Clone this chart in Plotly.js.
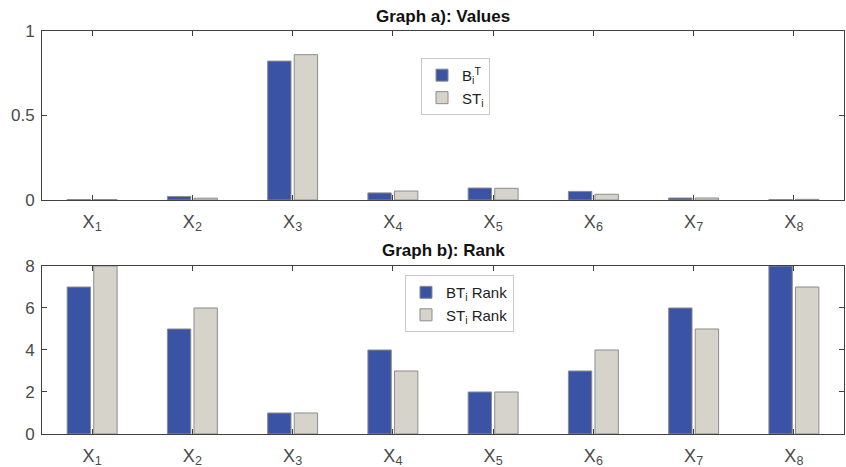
<!DOCTYPE html>
<html>
<head>
<meta charset="utf-8">
<script src="https://cdn.plot.ly/plotly-3.0.1.min.js"></script>
<style>html,body{margin:0;padding:0;background:#fff;}#chart{width:846px;height:467px;}</style>
</head>
<body>
<div id="chart"></div>
<script>
const categories = ["X<sub>1</sub>","X<sub>2</sub>","X<sub>3</sub>","X<sub>4</sub>","X<sub>5</sub>","X<sub>6</sub>","X<sub>7</sub>","X<sub>8</sub>"];
const btValues = [0.003, 0.021, 0.822, 0.042, 0.071, 0.051, 0.012, 0.003];
const stValues = [0.003, 0.011, 0.860, 0.053, 0.069, 0.034, 0.012, 0.004];
const btRank = [7, 5, 1, 4, 2, 3, 6, 8];
const stRank = [8, 6, 1, 3, 2, 4, 5, 7];
const yTicksTop = [0, 0.5, 1];
const yTickTextTop = ["0", "0.5", "1"];
const yTicksBottom = [0, 2, 4, 6, 8];

const FONT = "'Liberation Sans', Arial, sans-serif";
const BLUE = "#3a53a4";
const GRAY = "#d6d3ca";
const EDGE = "#8c8c8c";
const AX = "#404040";

const traces = [
  {type:"bar", x:categories, y:btValues, name:"B<sub>i</sub><sup>T</sup>", xaxis:"x", yaxis:"y",
   marker:{color:BLUE, line:{color:EDGE, width:1}}, legend:"legend"},
  {type:"bar", x:categories, y:stValues, name:"ST<sub>i</sub>", xaxis:"x", yaxis:"y",
   marker:{color:GRAY, line:{color:EDGE, width:1}}, legend:"legend"},
  {type:"bar", x:categories, y:btRank, name:"BT<sub>i</sub> Rank", xaxis:"x2", yaxis:"y2",
   marker:{color:BLUE, line:{color:EDGE, width:1}}, legend:"legend2"},
  {type:"bar", x:categories, y:stRank, name:"ST<sub>i</sub> Rank", xaxis:"x2", yaxis:"y2",
   marker:{color:GRAY, line:{color:EDGE, width:1}}, legend:"legend2"}
];

const xCommon = {
  type:"category", showline:true, linecolor:AX, linewidth:1, mirror:"ticks",
  ticks:"inside", ticklen:5, tickcolor:AX, showgrid:false, zeroline:false,
  tickfont:{family:FONT, size:18, color:"#4a4a4a"}, ticklabelstandoff:5,
  range:[-0.5,7.5], fixedrange:true
};
const yCommon = {
  showline:true, linecolor:AX, linewidth:1, mirror:"ticks",
  ticks:"inside", ticklen:5, tickcolor:AX, showgrid:false, zeroline:false,
  tickfont:{family:FONT, size:17, color:"#4a4a4a"}, ticklabelstandoff:3
};
const legCommon = {
  bgcolor:"#ffffff", bordercolor:"#c8c8c8", borderwidth:1,
  font:{family:FONT, size:15, color:"#222"}, xref:"paper", yref:"paper",
  xanchor:"left", yanchor:"top", tracegroupgap:0, itemwidth:30
};

const layout = {
  width:846, height:467,
  margin:{l:42, r:2, t:0, b:0},
  paper_bgcolor:"#ffffff", plot_bgcolor:"#ffffff",
  barmode:"group", bargap:0.47, bargroupgap:0.12,
  font:{family:FONT},
  xaxis: Object.assign({}, xCommon, {domain:[0,1], anchor:"y"}),
  yaxis: Object.assign({}, yCommon, {domain:[0.5717, 0.9336], anchor:"x", range:[0,1],
          tickvals:yTicksTop, ticktext:yTickTextTop}),
  xaxis2: Object.assign({}, xCommon, {domain:[0,1], anchor:"y2"}),
  yaxis2: Object.assign({}, yCommon, {domain:[0.0707, 0.4304], anchor:"x2", range:[0,8],
          tickvals:yTicksBottom}),
  legend: Object.assign({}, legCommon, {x:0.4726, y:0.876}),
  legend2: Object.assign({}, legCommon, {x:0.4526, y:0.411}),
  annotations:[
    {text:"<b>Graph a): Values</b>", xref:"paper", yref:"paper", x:0.5, y:1-16/467,
     xanchor:"center", yanchor:"middle", showarrow:false, font:{family:FONT, size:17, color:"#111"}},
    {text:"<b>Graph b): Rank</b>", xref:"paper", yref:"paper", x:0.5, y:1-250/467,
     xanchor:"center", yanchor:"middle", showarrow:false, font:{family:FONT, size:17, color:"#111"}}
  ]
};

Plotly.newPlot("chart", traces, layout, {displayModeBar:false, staticPlot:true});
</script>
</body>
</html>
